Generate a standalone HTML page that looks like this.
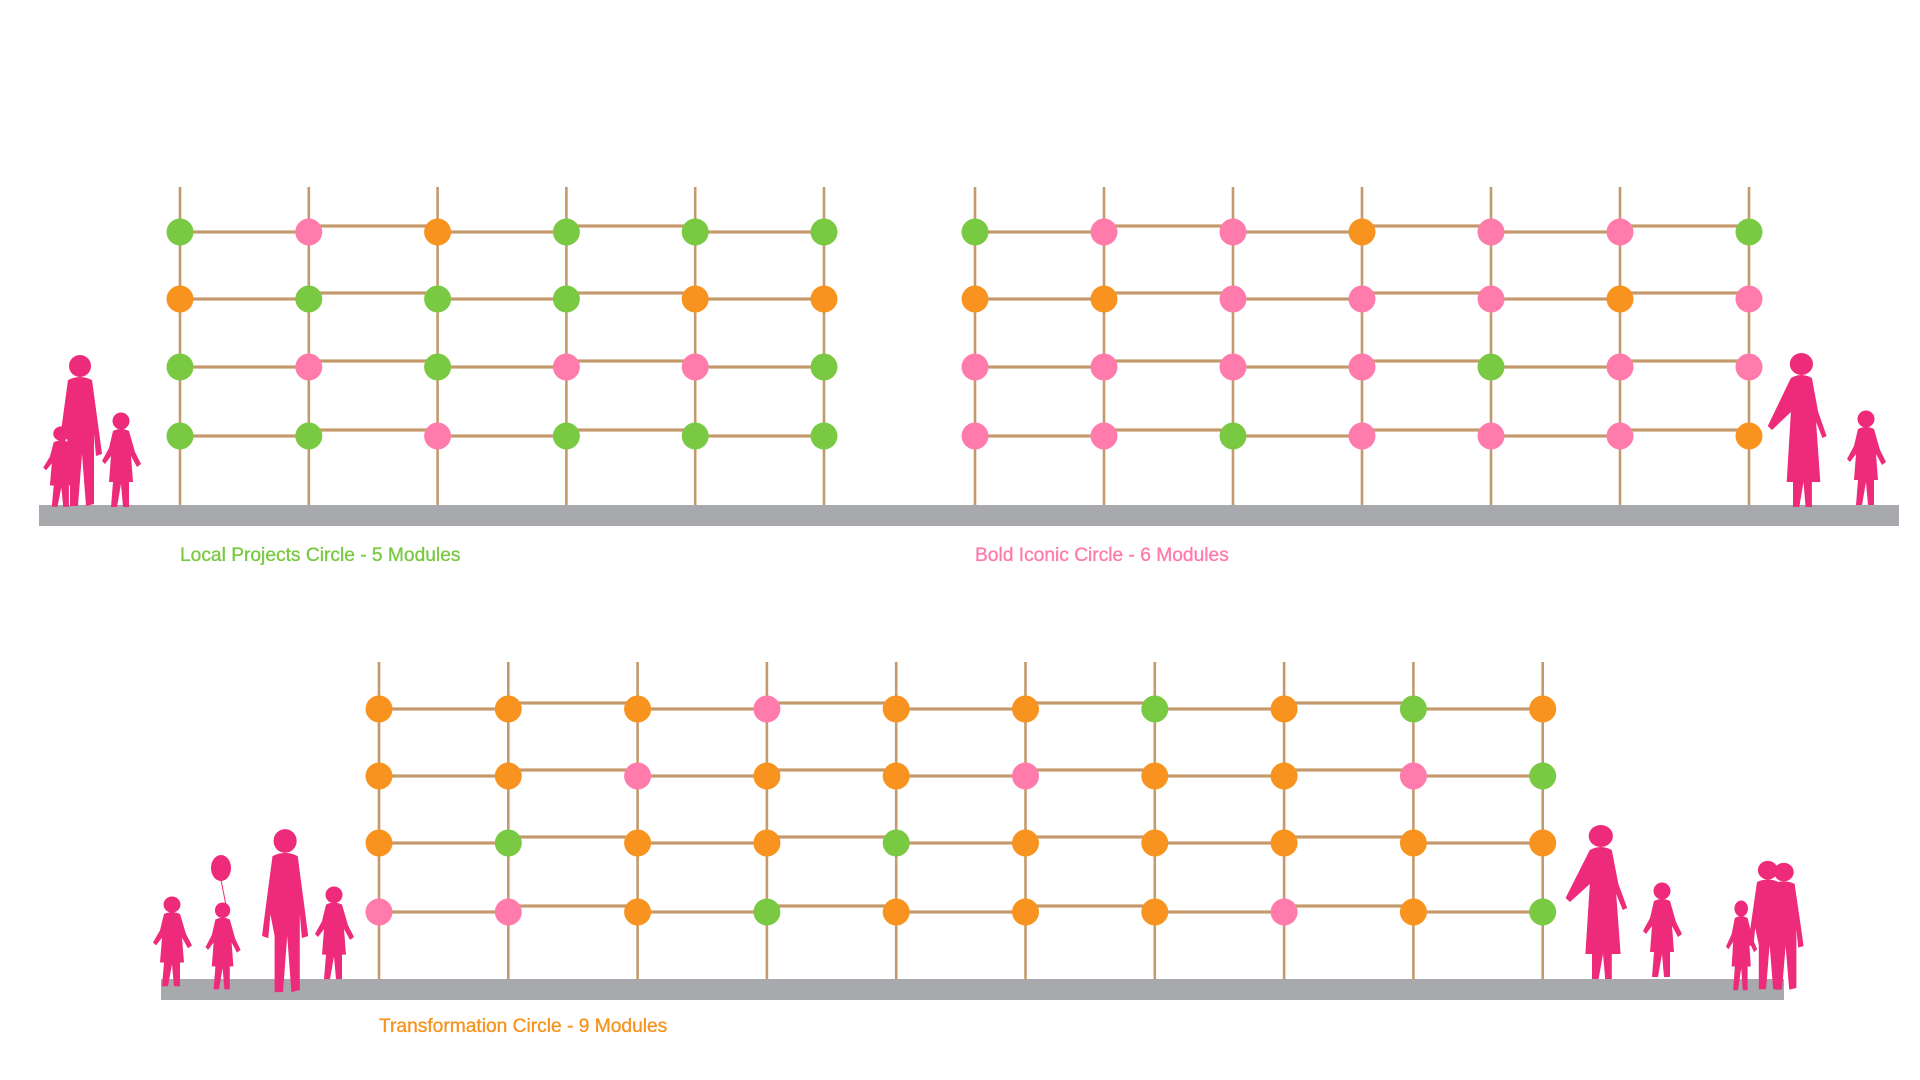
<!DOCTYPE html>
<html><head><meta charset="utf-8"><style>
html,body{margin:0;padding:0;background:#fff;width:1920px;height:1080px;overflow:hidden}
svg{display:block}
text{font-family:"Liberation Sans",sans-serif;font-size:19.2px;stroke-width:0.35px}
</style></head><body>
<svg id="s" width="1920" height="1080" viewBox="0 0 1920 1080" xmlns="http://www.w3.org/2000/svg">
<defs>
<g id="adult">
<circle cx="22" cy="12" r="11"/>
<path d="M10 26 Q22 20 34 26 L40 70 L44 100 L38 102 L36 80 L36 150 L28 152 L24 100 L20 152 L12 152 L12 100 L8 80 L6 102 L0 100 L4 70 Z"/>
</g>
<g id="child">
<circle cx="14" cy="9" r="8.5"/>
<path d="M6 19 Q14 15 22 19 L28 40 L34 52 L30 55 L24 44 L26 70 L22 70 L22 95 L16 95 L14 72 L10 95 L4 95 L6 70 L2 70 L4 44 L-2 52 L-5 49 L2 36 Z"/>
</g>
<g id="woman">
<circle cx="28" cy="12" r="11"/>
<path d="M18 26 Q28 20 38 26 L44 60 L52 84 L48 86 L42 70 L46 130 L38 130 L38 155 L32 155 L30 130 L26 155 L20 155 L20 130 L14 130 L18 60 L0 78 L-4 74 Z"/>
</g>
</defs>
<g id="g"></g>
<text x="180" y="561" fill="#7ac943" stroke="#7ac943">Local Projects Circle - 5 Modules</text>
<text x="975" y="561" fill="#ff7bac" stroke="#ff7bac">Bold Iconic Circle - 6 Modules</text>
<text x="379" y="1032" fill="#f7931e" stroke="#f7931e">Transformation Circle - 9 Modules</text>
<g fill="#ee2a7b">
<use href="#child" transform="translate(48,426) scale(0.95,0.85)"/>
<use href="#adult" transform="translate(58,354)"/>
<use href="#child" transform="translate(107,412) scale(1,1)"/>
<use href="#woman" transform="translate(1772,352) scale(1.05,1)"/>
<use href="#child" transform="translate(1852,410) scale(1,1)"/>
<use href="#child" transform="translate(158,896) scale(1,0.95)"/>
<use href="#child" transform="translate(210,902) scale(0.9,0.92)"/>
<ellipse cx="221" cy="868" rx="10" ry="13"/>
<use href="#adult" transform="translate(262,828) scale(1.05,1.08)"/>
<use href="#child" transform="translate(320,886) scale(1,0.98)"/>
<use href="#woman" transform="translate(1570,824) scale(1.1,1.0)"/>
<use href="#child" transform="translate(1648,882) scale(1,1.0)"/>
<use href="#child" transform="translate(1730,900) scale(0.8,0.95)"/>
<use href="#adult" transform="translate(1748,860) scale(0.9,0.85)"/>
<use href="#adult" transform="translate(1764,862) scale(0.9,0.84)"/>
</g>
<line x1="221" y1="880" x2="226" y2="905" stroke="#ee2a7b" stroke-width="1"/>
</svg>
<script>
const C={G:"#7ac943",P:"#ff7bac",O:"#f7931e"};
const g=document.getElementById('g');let h='';
function grid(x0,dx,rows,ys,top,gx1,gx2,gy){
 h+=`<rect x="${gx1}" y="${gy}" width="${gx2-gx1}" height="21" fill="#a7a9ac"/>`;
 const n=rows[0].length;
 for(let i=0;i<n;i++){const x=x0+i*dx;h+=`<rect x="${x-1.3}" y="${top}" width="2.6" height="${gy-top}" fill="#c49a6c"/>`;}
 rows.forEach((r,ri)=>{const y=ys[ri];
  for(let i=0;i<n-1;i++){const x=x0+i*dx;const yy=i%2?y-6:y;h+=`<rect x="${x}" y="${yy-1.6}" width="${dx}" height="3.2" fill="#c49a6c"/>`;}
  for(let i=0;i<n;i++){h+=`<circle cx="${x0+i*dx}" cy="${y}" r="13.5" fill="${C[r[i]]}"/>`;}
 });
}
grid(180,128.8,["GPOGGG","OGGGOO","GPGPPG","GGPGGG"],[232,299,367,436],187,39,1899,505);
grid(975,129,["GPPOPPG","OOPPPOP","PPPPGPP","PPGPPPO"],[232,299,367,436],187,39,1899,505);
grid(379,129.3,["OOOPOOGOGO","OOPOOPOOPG","OGOOGOOOOO","PPOGOOOPOG"],[709,776,843,912],662,161,1784,979);
g.innerHTML=h;
</script>
</body></html>
